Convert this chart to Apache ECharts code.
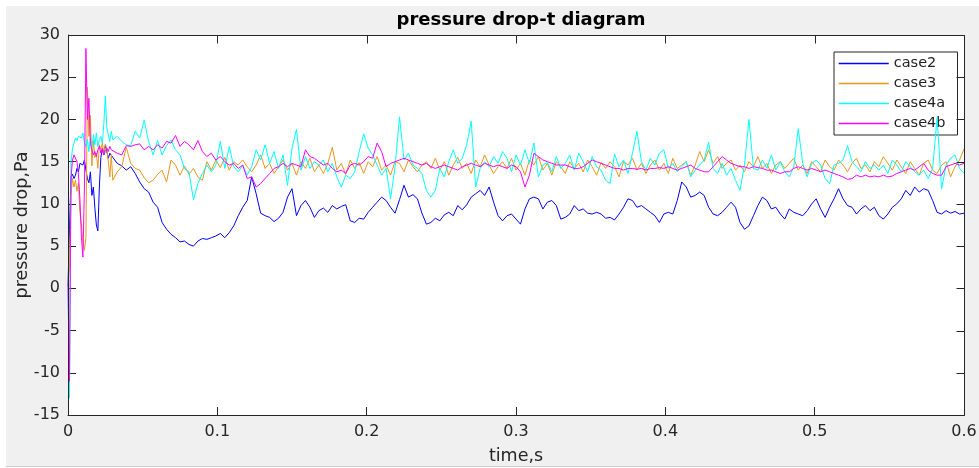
<!DOCTYPE html>
<html>
<head>
<meta charset="utf-8">
<script src="https://cdn.jsdelivr.net/npm/echarts@6/dist/echarts.min.js"></script>
<style>
  html, body { margin: 0; padding: 0; background: #ffffff; overflow: hidden; }
  #bg { position: absolute; left: 6px; top: 6px; width: 973px; height: 460px; background: #f0f0f0; border-bottom: 1px solid #d0d0d0; }
  #chart { position: absolute; left: 0; top: 0; width: 979px; height: 468px; }
</style>
</head>
<body>
<div id="bg"></div>
<div id="chart"></div>
<script>
// Sample times in milliseconds: 0..30 every 1 ms, then 33..600 every 3 ms
const timeMs = [];
for (let i = 0; i <= 30; i++) timeMs.push(i);
for (let i = 33; i <= 600; i += 3) timeMs.push(i);
const time = timeMs.map(m => m / 1000);

const seriesNames = ['case2', 'case3', 'case4a', 'case4b'];
const xTicks = [0, 0.1, 0.2, 0.3, 0.4, 0.5, 0.6];
const yTicks = [-15, -10, -5, 0, 5, 10, 15, 20, 25, 30];

const case2 = [
  0.3,7.0,13.2,13.5,13.0,13.4,14.2,13.8,14.8,15.0,14.6,15.2,14.0,13.0,12.5,13.8,11.0,12.0,9.5,7.5,6.8,12.0,15.5,16.5,15.8,17.0,16.2,15.4,16.0,15.8,15.5,
  14.8,14.5,14.0,14.4,13.6,12.6,11.8,11.4,10.2,9.6,
  7.8,7.0,6.4,6.0,5.5,5.6,5.2,5.0,5.6,5.9,
  5.8,6.0,6.2,6.5,6.0,6.6,7.4,8.6,9.6,10.4,
  13.2,11.2,8.9,8.6,8.4,7.9,8.3,9.0,10.8,11.8,
  8.6,9.8,10.4,9.6,8.4,9.2,9.5,9.0,9.8,9.4,
  9.7,9.9,8.0,7.8,8.3,8.2,9.0,9.6,10.2,10.8,
  10.4,9.6,8.9,10.5,12.2,10.8,11.1,10.6,8.9,7.6,
  7.8,8.3,8.0,8.7,9.0,8.6,9.8,9.3,9.9,10.8,
  11.2,11.6,11.0,12.0,10.2,8.6,8.0,8.6,8.8,8.2,
  7.6,9.4,10.6,10.8,10.6,9.4,10.2,10.4,9.8,8.2,
  8.4,8.8,9.8,9.2,9.4,8.9,8.8,9.0,8.8,8.3,
  8.4,8.1,8.8,9.6,10.6,10.4,9.6,9.8,9.4,9.0,
  8.6,7.8,8.8,9.0,8.8,10.4,12.6,12.0,10.8,11.0,
  11.4,11.0,9.6,8.8,8.6,9.0,9.6,10.2,9.6,7.8,
  7.0,7.4,8.6,9.8,10.8,10.4,9.4,9.6,8.8,8.2,
  9.4,9.0,8.8,8.6,9.2,10.0,10.6,9.4,8.4,9.6,
  10.6,11.8,10.6,9.8,9.6,8.8,9.4,9.8,9.2,9.6,
  8.6,8.2,8.8,9.6,10.0,10.6,11.6,11.0,12.0,11.4,
  11.8,11.6,10.4,9.0,8.8,9.2,8.9,9.1,8.8,8.9
];

const case3 = [
  0.5,2.5,11.0,13.0,12.0,12.8,11.5,12.5,9.0,7.5,5.5,4.5,6.0,23.8,18.0,20.5,14.5,17.5,15.5,16.0,14.2,17.0,16.5,17.2,16.0,17.0,16.6,15.0,13.2,15.8,12.8,
  13.8,14.4,16.7,14.8,14.2,14.0,13.1,12.5,12.8,13.5,
  14.0,12.6,15.2,14.6,13.4,14.5,13.5,14.2,13.2,12.8,
  15.0,14.0,15.2,14.3,15.5,14.0,15.0,14.6,15.2,14.4,
  13.8,14.6,15.8,14.2,14.8,13.6,14.4,15.2,14.0,14.8,
  13.4,15.0,14.2,15.4,13.8,14.6,13.6,14.8,16.7,14.0,
  14.8,13.5,15.2,14.2,14.9,13.6,15.0,14.4,15.6,14.0,
  14.6,13.4,15.0,14.8,13.8,15.2,14.4,13.8,14.6,15.0,
  14.2,15.4,14.0,15.0,13.4,14.6,15.5,14.2,14.8,13.6,
  15.2,14.4,15.8,14.6,13.6,14.4,15.0,14.2,15.4,14.0,
  14.8,13.4,15.2,14.6,15.6,14.0,14.8,13.4,15.0,14.4,
  13.6,15.0,14.2,14.8,13.8,15.2,14.4,13.4,14.9,14.2,
  15.0,14.4,13.2,15.0,14.6,15.4,14.0,14.8,13.6,14.6,
  15.2,14.0,14.8,13.6,15.4,14.2,14.6,15.0,13.4,14.6,
  16.2,15.0,16.4,14.8,15.6,14.2,14.8,15.2,14.0,14.6,
  13.8,15.0,14.4,15.6,14.2,14.8,13.6,14.6,15.0,14.2,
  14.8,15.4,14.0,14.6,13.6,15.0,14.4,13.8,15.2,14.4,
  14.0,15.2,14.6,13.8,14.8,15.4,14.2,14.6,13.8,15.0,
  14.4,15.6,14.8,14.0,15.2,14.4,13.6,15.0,14.2,13.4,
  14.8,15.2,14.0,13.6,14.6,15.0,13.2,14.4,15.2,16.5
];

const case4a = [
  0.5,-13.0,15.0,16.5,17.2,17.8,17.5,18.0,18.2,17.8,18.4,17.2,16.8,17.6,16.2,17.8,16.6,18.2,17.0,18.4,16.8,17.6,18.0,17.2,19.5,22.8,19.0,18.2,17.4,18.6,17.6,
  18.0,17.4,17.0,16.9,18.6,17.8,19.9,17.4,15.8,17.5,
  15.8,16.9,17.6,16.4,15.8,14.2,13.8,10.5,12.4,13.6,
  14.6,13.8,14.6,17.4,14.2,16.8,14.4,13.8,14.6,13.4,
  14.4,16.4,15.2,17.0,14.8,16.2,14.2,15.8,12.2,16.6,
  18.8,14.0,15.6,14.2,15.0,14.6,15.2,13.8,14.8,13.2,
  12.0,13.4,13.0,13.8,16.2,18.3,16.6,15.8,14.6,13.4,
  14.2,10.6,14.4,20.3,15.2,16.0,14.6,14.2,13.6,11.6,
  10.8,11.6,14.2,13.2,15.0,16.4,14.8,15.4,17.0,19.8,
  12.0,14.2,15.0,14.4,15.6,14.8,16.2,15.4,13.8,15.8,
  14.6,16.4,14.8,17.2,13.2,14.6,14.9,13.8,15.6,14.2,
  14.8,15.8,14.0,16.0,15.0,13.8,15.6,14.4,14.0,12.8,
  12.4,15.9,14.4,15.2,13.6,16.0,18.6,15.0,14.0,15.4,
  14.6,16.0,16.4,14.2,14.8,13.8,14.4,15.0,13.2,14.0,
  14.6,15.2,17.3,14.2,13.6,14.8,13.4,14.2,12.8,11.6,
  14.6,20.0,14.2,14.0,15.2,14.2,15.8,14.0,15.0,13.8,
  13.2,14.4,18.9,14.8,13.2,14.8,15.2,14.6,13.0,12.4,
  14.6,14.8,15.2,16.9,15.0,14.4,13.8,15.0,14.2,14.6,
  14.0,14.6,13.6,15.2,14.6,13.8,15.0,14.4,13.8,13.4,
  14.0,13.0,14.2,20.2,11.8,14.6,15.4,15.8,14.2,13.6
];

const case4b = [
  0.5,-11.0,13.0,15.2,15.8,15.6,15.0,13.5,10.5,6.0,3.7,12.0,28.4,20.0,22.5,17.2,16.4,15.8,16.2,15.6,16.4,16.8,16.0,16.6,15.8,16.2,16.6,16.2,16.8,16.4,16.6,
  16.0,15.8,16.9,16.8,17.0,17.1,16.4,16.8,16.4,17.0,
  16.6,17.4,17.2,18.1,16.8,17.4,17.0,16.4,17.5,16.2,
  15.6,16.0,15.2,15.6,15.0,14.6,14.8,14.2,14.6,13.0,
  13.2,12.0,12.4,13.0,13.6,14.2,14.4,14.8,14.4,14.8,
  14.6,14.4,16.4,15.6,15.4,15.0,14.6,14.8,14.2,13.8,
  14.0,13.6,14.6,14.8,14.6,15.0,15.6,15.4,17.2,16.2,
  14.4,14.8,15.0,15.2,15.4,15.2,15.0,14.8,14.6,14.8,
  14.4,14.2,14.4,14.6,14.4,14.2,14.0,14.4,14.6,14.8,
  14.6,14.4,14.8,14.6,14.4,14.6,14.4,14.2,14.6,14.4,
  13.8,12.0,13.4,16.0,15.6,15.2,15.0,14.8,14.6,14.6,
  14.6,14.4,14.2,14.2,14.4,14.8,15.2,15.0,14.8,14.6,
  14.4,14.2,14.2,14.0,14.2,14.2,14.1,14.2,14.0,14.2,
  14.2,14.3,14.2,14.4,14.2,14.0,14.2,14.4,14.6,14.2,
  14.0,13.8,13.8,14.4,15.0,15.6,15.2,14.8,14.6,14.4,
  14.4,14.2,14.4,14.3,14.2,14.0,14.0,13.8,13.6,13.8,
  13.8,14.2,14.4,14.2,14.0,14.2,14.0,13.8,14.0,13.8,
  13.6,13.4,13.2,12.9,13.0,13.4,13.2,13.4,13.2,13.3,
  13.2,13.4,13.2,13.3,13.6,13.8,14.0,14.2,14.0,14.4,
  14.8,14.0,13.6,13.4,13.4,14.4,14.6,14.8,14.6,14.8
];

const seriesValues = [case2, case3, case4a, case4b];
const seriesColors = ['#0000ff', '#e8961e', '#00ffff', '#ff00ff'];

const FONT = 'DejaVu Sans';
const AX = '#262626';

function pairs(vals) {
  const out = [];
  for (let i = 0; i < time.length && i < vals.length; i++) out.push([time[i], vals[i]]);
  return out;
}

function fmtX(v) { return String(+v.toFixed(2)); }

const chart = echarts.init(document.getElementById('chart'), null, { renderer: 'canvas' });

const tickStyle = { show: true, inside: true, length: 8, lineStyle: { color: AX, width: 1 } };

chart.setOption({
  animation: false,
  backgroundColor: 'transparent',
  title: {
    text: 'pressure drop-t diagram',
    left: 516, top: 6, textAlign: 'center',
    textStyle: { fontFamily: FONT, fontSize: 18, fontWeight: 'bold', color: '#000000' }
  },
  grid: {
    left: 68, top: 35, right: 15, bottom: 53,
    containLabel: false, outerBoundsMode: 'none',
    show: false
  },
  legend: {
    orient: 'vertical', left: 834, top: 52,
    itemWidth: 50, itemHeight: 14, itemGap: 5,
    padding: [4, 12, 4, 4],
    backgroundColor: '#ffffff', borderColor: AX, borderWidth: 1, borderRadius: 0,
    data: seriesNames,
    itemStyle: { opacity: 0 },
    lineStyle: { width: 1.5 },
    textStyle: { fontFamily: FONT, fontSize: 14.5, color: '#222222' }
  },
  xAxis: {
    type: 'value', min: xTicks[0], max: xTicks[xTicks.length - 1], interval: 0.1,
    position: 'bottom',
    splitLine: { show: false },
    axisLine: { show: true, onZero: false, lineStyle: { color: AX, width: 1 } },
    axisTick: tickStyle,
    nameMoveOverlap: false,
    name: 'time,s', nameLocation: 'middle', nameGap: 32,
    nameTextStyle: { fontFamily: FONT, fontSize: 17.5, color: AX },
    axisLabel: { fontFamily: FONT, fontSize: 16, color: AX, margin: 9, formatter: fmtX }
  },
  yAxis: {
    type: 'value', min: yTicks[0], max: yTicks[yTicks.length - 1], interval: 5,
    position: 'left',
    splitLine: { show: false },
    axisLine: { show: true, onZero: false, lineStyle: { color: AX, width: 1 } },
    axisTick: tickStyle,
    nameMoveOverlap: false,
    name: 'pressure drop,Pa', nameLocation: 'middle', nameGap: 37,
    nameTextStyle: { fontFamily: FONT, fontSize: 17.5, color: AX },
    axisLabel: { fontFamily: FONT, fontSize: 16, color: AX, margin: 8 }
  },
  series: seriesNames.map((name, k) => ({
    name: name, type: 'line',
    data: pairs(seriesValues[k]),
    symbol: 'none', showSymbol: false,
    lineStyle: { color: seriesColors[k], width: 1 },
    itemStyle: { color: seriesColors[k] },
    z: 2 + k
  }))
});

// Plot background, box and mirrored ticks, placed through the axes' own scale
const pTL = chart.convertToPixel({ gridIndex: 0 }, [xTicks[0], yTicks[yTicks.length - 1]]);
const pBR = chart.convertToPixel({ gridIndex: 0 }, [xTicks[xTicks.length - 1], yTicks[0]]);
const crisp = v => Math.round(v) + 0.5;
const L = crisp(pTL[0]), T = crisp(pTL[1]), R = crisp(pBR[0]), B = crisp(pBR[1]);
const gfx = [{
  type: 'rect', z: -10, silent: true,
  shape: { x: L, y: T, width: R - L, height: B - T },
  style: { fill: '#ffffff' }
}, {
  type: 'rect', z: 50, silent: true,
  shape: { x: L, y: T, width: R - L, height: B - T },
  style: { fill: 'none', stroke: AX, lineWidth: 1 }
}];
xTicks.forEach(v => {
  const px = crisp(chart.convertToPixel({ gridIndex: 0 }, [v, yTicks[0]])[0]);
  gfx.push({ type: 'line', z: 50, silent: true, shape: { x1: px, y1: T, x2: px, y2: T + 8 }, style: { stroke: AX, lineWidth: 1 } });
});
yTicks.forEach(v => {
  const py = crisp(chart.convertToPixel({ gridIndex: 0 }, [xTicks[0], v])[1]);
  gfx.push({ type: 'line', z: 50, silent: true, shape: { x1: R - 8, y1: py, x2: R, y2: py }, style: { stroke: AX, lineWidth: 1 } });
});
chart.setOption({ graphic: gfx });
</script>
</body>
</html>
